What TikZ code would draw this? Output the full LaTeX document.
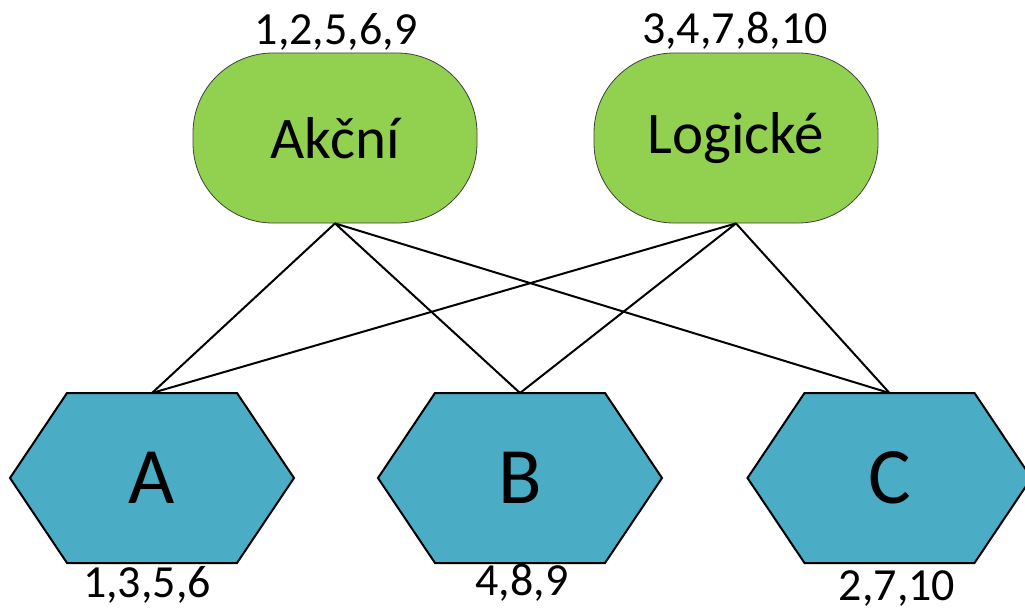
\documentclass[tikz,border=0pt]{standalone}
\usepackage{fontspec}
\setmainfont{Carlito}
\definecolor{boxgreen}{HTML}{92D050}
\definecolor{hexblue}{HTML}{4BACC6}
\begin{document}
\begin{tikzpicture}[x=1pt,y=-1pt,
  catbox/.style={draw=black!75,line width=0.8pt,fill=boxgreen,rounded corners=80pt,
    minimum width=284pt,minimum height=170pt,inner sep=0pt,
    font=\fontsize{59}{62}\selectfont},
  hexfill/.style={draw=black,line width=2pt,fill=hexblue,line join=miter},
  hexlabel/.style={inner sep=0pt,font=\fontsize{80}{84}\selectfont},
  numlabel/.style={inner sep=0pt,anchor=base,font=\fontsize{46}{50}\selectfont},
  link/.style={draw=black,line width=2pt}]
\useasboundingbox (0,0) rectangle (1025,610);
% top categories
\node[catbox] (ak) at (335,138) {Akční};
\node[catbox] (lo) at (736,138) {Logické};
% hexagons
\foreach \n/\cx in {A/152,B/520,C/889.5}{
  \path[hexfill] (\cx-142,478) -- (\cx-85,393) -- (\cx+85,393) -- (\cx+142,478)
     -- (\cx+85,563) -- (\cx-85,563) -- cycle;
  \coordinate (\n top) at (\cx,393);
}
\node[hexlabel] (A) at (152,478) {A};
\node[hexlabel] (B) at (520,478) {B};
\node[hexlabel] (C) at (889.5,478) {C};
% connectors
\foreach \t in {A,B,C}{
  \draw[link] (ak.south) -- (\t top);
  \draw[link] (lo.south) -- (\t top);
}
% number labels
\node[numlabel] (nak) at (336,45) {1,2,5,6,9};
\node[numlabel] (nlo) at (735,44) {3,4,7,8,10};
\node[numlabel] (nA) at (147,597) {1,3,5,6};
\node[numlabel] (nB) at (522,595) {4,8,9};
\node[numlabel] (nC) at (897,600) {2,7,10};
\end{tikzpicture}
\end{document}
